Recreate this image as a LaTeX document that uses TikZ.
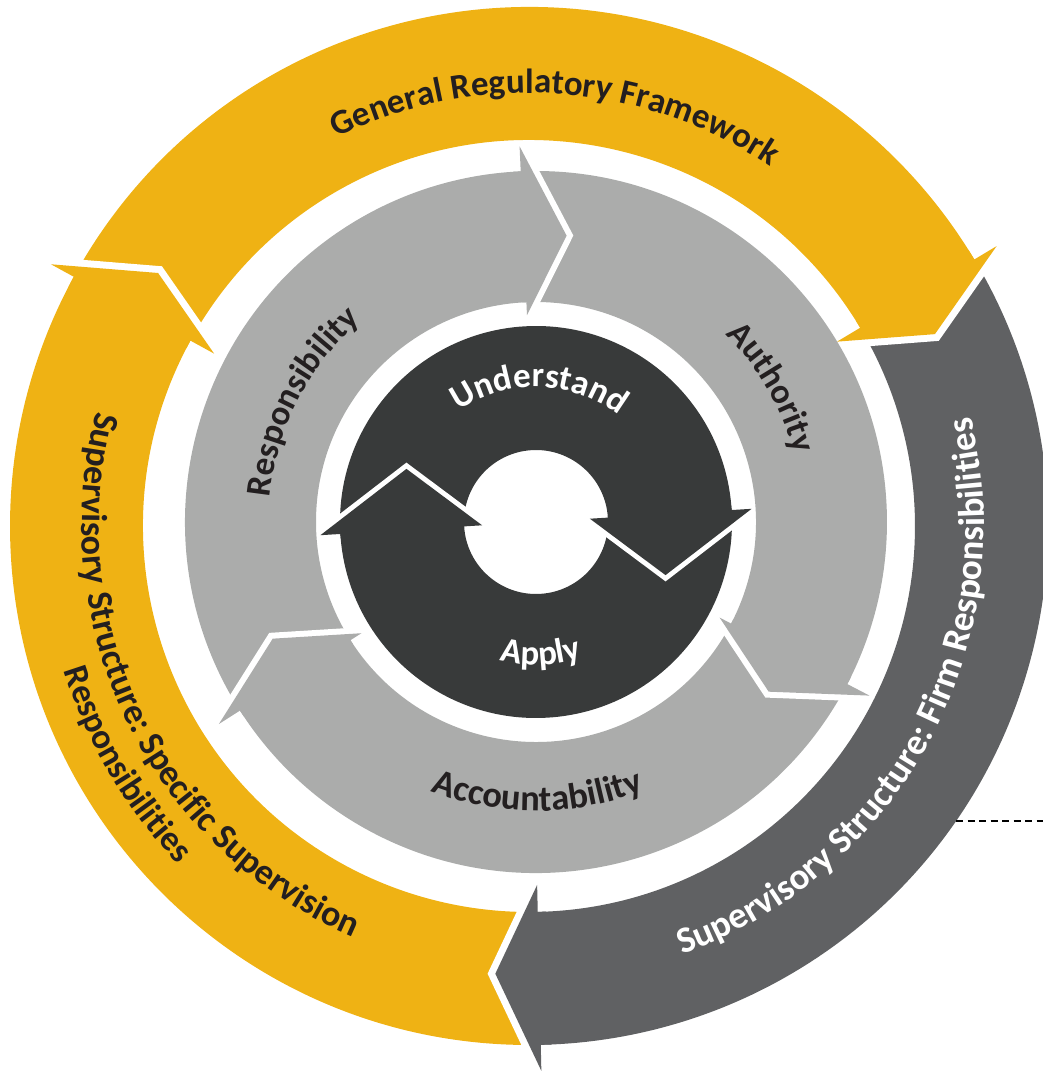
\documentclass[tikz,border=0pt]{standalone}
\usepackage{fontspec}
\setmainfont{Carlito}
\usetikzlibrary{decorations.text}
\definecolor{frameyellow}{RGB}{239,178,20}
\definecolor{firmgray}{RGB}{96,97,99}
\definecolor{rolegray}{RGB}{171,172,171}
\definecolor{coredark}{RGB}{56,58,58}
\definecolor{labeldark}{RGB}{35,31,32}
\newcommand\ringshaft[3]{%
  \fill[#1] (#2:\rOut) arc[start angle=#2,end angle=#3,radius=\rOut]
    -- (#3:\rIn) arc[start angle=#3,end angle=#2,radius=\rIn] -- cycle;}
\newcommand\ringhead[2]{%
  \draw[white,line width=\gapw,line join=miter] (#2:\bOut) -- ({#2-\hd}:\rTip) -- (#2:\bIn);
  \fill[#1] (#2:\bOut) -- ({#2-\hd}:\rTip) -- (#2:\bIn) -- (#2:\rIn)
    -- ({#2+1.2}:\rIn) -- ({#2+1.2}:\rOut) -- (#2:\rOut) -- cycle;}
\newcommand\arclabel[6][35]{%
  \path[decorate,decoration={text along path,text align=center,
    text={|\fontsize{#1}{42}\selectfont\bfseries\color{#2}|#6}}]
    (#4:#3) arc[start angle=#4,end angle=#5,radius=#3];}

\begin{document}
\begin{tikzpicture}
  \useasboundingbox (-536pt,-550pt) rectangle (507pt,522pt);
  \clip (-536pt,-550pt) rectangle (507pt,522pt);
  \begin{scope}[shift={(-7pt,-4pt)}]
    \def\rOut{519pt}\def\rIn{386pt}\def\bOut{545pt}\def\bIn{359pt}
    \def\rTip{449pt}\def\hd{5.6}\def\gapw{14pt}
    \ringshaft{frameyellow}{271.3}{151.3}
    \ringshaft{frameyellow}{151.3}{30.9}
    \ringshaft{firmgray}{30.9}{-88.7}
    \ringhead{frameyellow}{151.3}
    \ringhead{frameyellow}{30.9}
    \ringhead{firmgray}{-88.7}
    \arclabel{labeldark}{433pt}{126.25}{46.25}{General Regulatory Framework}
    \arclabel[36]{labeldark}{447pt}{146}{266}{Supervisory Structure: Specific Supervision}
    \arclabel{labeldark}{487pt}{150.6}{270.6}{Responsibilities}
    \arclabel[37]{white}{455pt}{271.8}{391.8}{Supervisory Structure: Firm Responsibilities}
  \end{scope}
  \begin{scope}
    \def\rOut{351pt}\def\rIn{220pt}\def\bOut{376pt}\def\bIn{207pt}
    \def\rTip{288pt}\def\hd{8.6}\def\gapw{12pt}
    \ringshaft{rolegray}{212.5}{92.5}
    \ringshaft{rolegray}{92.5}{-27.5}
    \ringshaft{rolegray}{332.5}{212.5}
    \ringhead{rolegray}{92.5}
    \ringhead{rolegray}{-27.5}
    \ringhead{rolegray}{212.5}
    \arclabel{labeldark}{267pt}{192.8}{112.8}{Responsibility}
    \arclabel{labeldark}{267pt}{69.75}{-10.25}{Authority}
    \arclabel[36.5]{labeldark}{289pt}{230.3}{310.3}{Accountability}
  \end{scope}
  \begin{scope}
    \def\rOut{196pt}\def\rIn{72pt}\def\bOut{216pt}\def\bIn{54pt}
    \def\rTip{140pt}\def\hd{25.8}\def\gapw{10pt}
    \ringshaft{coredark}{183.5}{3.5}
    \ringshaft{coredark}{363.5}{183.5}
    \ringhead{coredark}{3.5}
    \ringhead{coredark}{183.5}
    \arclabel{white}{135pt}{148.6}{28.6}{Understand}
    \arclabel{white}{143pt}{212}{332}{Apply}
  \end{scope}
  \coordinate (dashL) at (420pt,-299pt);
  \coordinate (dashR) at (507pt,-299pt);
  \draw[line width=2.5pt,dash pattern=on 7pt off 4.5pt] (dashL) -- (dashR);
\end{tikzpicture}
\end{document}
